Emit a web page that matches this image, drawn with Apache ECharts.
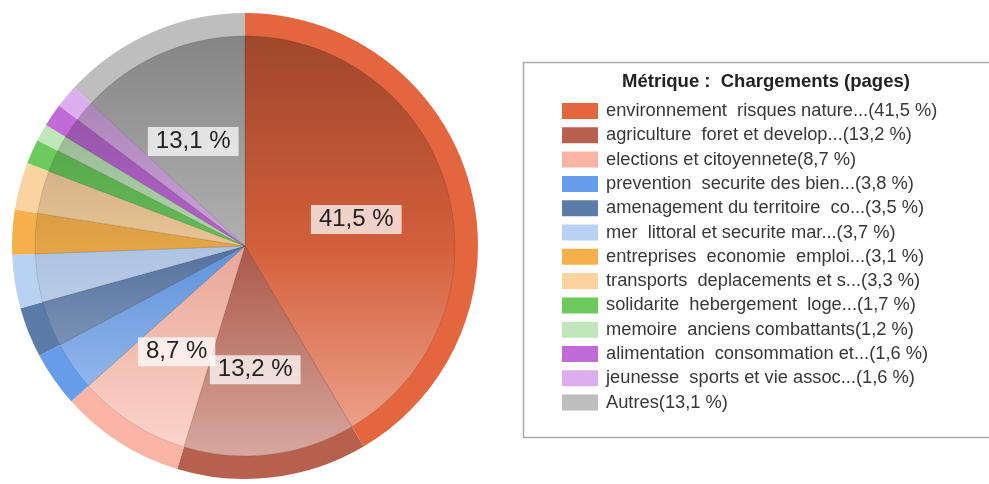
<!DOCTYPE html>
<html>
<head>
<meta charset="utf-8">
<script src="https://cdn.jsdelivr.net/npm/echarts@6/dist/echarts.min.js"></script>
<style>
html,body{margin:0;padding:0;background:#fff;}
#c{width:989px;height:484px;}
</style>
</head>
<body>
<div id="c"></div>
<script>
// ---- data ----
var categories = [
  "environnement  risques nature...",
  "agriculture  foret et develop...",
  "elections et citoyennete",
  "prevention  securite des bien...",
  "amenagement du territoire  co...",
  "mer  littoral et securite mar...",
  "entreprises  economie  emploi...",
  "transports  deplacements et s...",
  "solidarite  hebergement  loge...",
  "memoire  anciens combattants",
  "alimentation  consommation et...",
  "jeunesse  sports et vie assoc...",
  "Autres"
];
var values = [41.5, 13.2, 8.7, 3.8, 3.5, 3.7, 3.1, 3.3, 1.7, 1.2, 1.6, 1.6, 13.1];
var colors = ["#E3663F", "#B8604E", "#F9B4A3", "#669DEA", "#5B7BA9", "#B9D2F3",
              "#F5B04C", "#FAD3A0", "#6DCB5E", "#BFE7B9", "#C06BD8", "#DCAEEE", "#BEBEBE"];
var legendTitle = "Métrique :  Chargements (pages)";

// ---- helpers ----
function fmt(v){ return v.toFixed(1).replace('.', ',') + ' %'; }
function hex2rgb(h){ h=h.replace('#',''); return [parseInt(h.substr(0,2),16),parseInt(h.substr(2,2),16),parseInt(h.substr(4,2),16)]; }
function rgb(a){ return 'rgb(' + a.map(function(x){return Math.max(0,Math.min(255,Math.round(x)));}).join(',') + ')'; }
function shade(h,f){ return rgb(hex2rgb(h).map(function(x){return x*f;})); }
function tint(h,f){ return rgb(hex2rgb(h).map(function(x){return x+(255-x)*f;})); }

var chart = echarts.init(document.getElementById('c'), null, {renderer:'canvas'});

var outerData = categories.map(function(n,i){
  return {name:n, value:values[i], itemStyle:{color:colors[i]}, label:{show: values[i] >= 5}};
});
var innerData = categories.map(function(n,i){
  return {
    name:n, value:values[i],
    itemStyle:{color:{type:'linear', x:0, y:36, x2:0, y2:458, global:true,
      colorStops:[{offset:0,color:shade(colors[i],0.7)},{offset:0.5,color:shade(colors[i],0.93)},{offset:1,color:tint(colors[i],0.45)}]}}
  };
});
var legendData = categories.map(function(n,i){
  return {name:n, itemStyle:{color:colors[i]}};
});

var center = [245, 246];

chart.setOption({
  animation:false,
  title:{
    text:legendTitle, left:766, top:72, textAlign:'center', padding:0,
    textStyle:{fontFamily:'Liberation Sans, Arial, sans-serif', fontSize:18.5, fontWeight:'bold', color:'#222'}
  },
  graphic:[{
    type:'rect', z:-1,
    shape:{x:523.5, y:62.5, width:480, height:375},
    style:{fill:'#fff', stroke:'#aaaaaa', lineWidth:1.5}
  }],
  legend:{
    orient:'vertical', left:562, top:102, padding:0,
    itemWidth:36, itemHeight:16, itemGap:6.3,
    icon:'rect', selectedMode:false,
    data:legendData,
    formatter:function(name){ var i=categories.indexOf(name); return name + '(' + fmt(values[i]) + ')'; },
    textStyle:{fontFamily:'Liberation Sans, Arial, sans-serif', fontSize:18.3, color:'#383838', lineHeight:18, padding:[0,0,0,3]}
  },
  series:[
    {
      type:'pie', center:center, radius:[0,233], startAngle:90, clockwise:true,
      silent:true, labelLine:{show:false},
      avoidLabelOverlap:false, labelLayout:{hideOverlap:false},
      itemStyle:{borderWidth:0},
      emphasis:{disabled:true},
      label:{
        position:'inside', offset:[-4,5],
        formatter:function(p){ return fmt(p.value); },
        fontFamily:'Liberation Sans, Arial, sans-serif', fontSize:24, color:'#222',
        backgroundColor:'rgba(255,255,255,0.72)', padding:[3,8,2,8]
      },
      data:outerData
    },
    {
      type:'pie', center:center, radius:[0,210], startAngle:90, clockwise:true,
      silent:true, label:{show:false}, labelLine:{show:false},
      itemStyle:{borderWidth:0.6, borderColor:'rgba(0,0,0,0.18)'},
      emphasis:{disabled:true},
      data:innerData
    }
  ]
});
</script>
</body>
</html>
